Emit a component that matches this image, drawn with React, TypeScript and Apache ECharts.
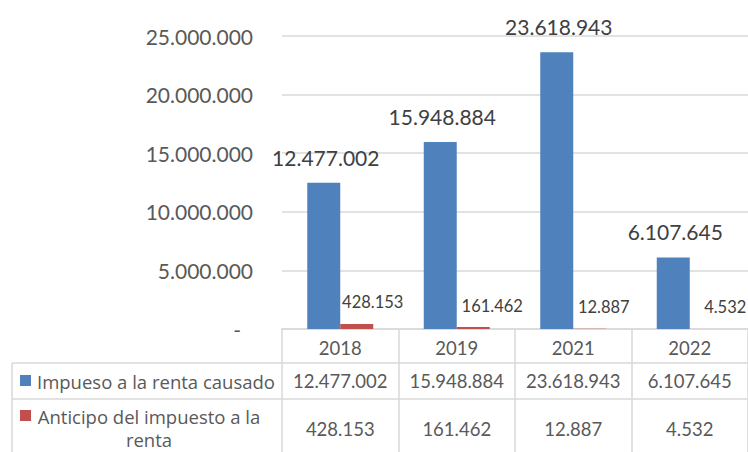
import React, { useEffect, useRef } from 'react';
import * as echarts from 'echarts';

const categories = ['2018', '2019', '2021', '2022'];
const impuestoCausado = [12477002, 15948884, 23618943, 6107645];
const anticipoImpuesto = [428153, 161462, 12887, 4532];
const seriesNames = ['Impueso a la renta causado', 'Anticipo del impuesto a la renta'];
const yMin = 0;
const yMax = 25000000;
const yInterval = 5000000;

const BLUE = '#4f81bd';
const RED = '#c0504d';
const GRID_COLOR = '#d9d9d9';
const TEXT = '#595959';
const LABEL_TEXT = '#404040';
const FONT = 'Lato, "Open Sans", sans-serif';
const ROW_FONT = '"Open Sans", Lato, sans-serif';

const W = 748;
const H = 452;
const GRID_LEFT = 282;
const GRID_TOP = 36;
const AXIS_Y = 329;
const ROW1_BOTTOM = 363;
const ROW2_BOTTOM = 399;
const TABLE_LEFT = 12;
const redLabelDx = [16, 19, 14, 19];

const fmt = (n: number) => (n === 0 ? '-' : String(n).replace(/\B(?=(\d{3})+(?!\d))/g, '.'));

function wrap(s: string, max: number): string {
  if (s.length <= max) return s;
  const idx = s.lastIndexOf(' ', max);
  if (idx <= 0) return s;
  return s.slice(0, idx) + '\n' + s.slice(idx + 1);
}

export default function App() {
  const ref = useRef<HTMLDivElement>(null);

  useEffect(() => {
    if (!ref.current) return;
    const chart = echarts.init(ref.current, null, { renderer: 'svg' });
    const colW = (W - GRID_LEFT) / categories.length;
    const seriesData = [impuestoCausado, anticipoImpuesto];
    const valueRowY = [381, 428.5];

    const graphic: any[] = [
      { type: 'line', shape: { x1: TABLE_LEFT, y1: ROW1_BOTTOM, x2: W, y2: ROW1_BOTTOM }, style: { stroke: GRID_COLOR, lineWidth: 1.5 } },
      { type: 'line', shape: { x1: TABLE_LEFT, y1: ROW2_BOTTOM, x2: W, y2: ROW2_BOTTOM }, style: { stroke: GRID_COLOR, lineWidth: 1.5 } },
      { type: 'line', shape: { x1: TABLE_LEFT, y1: ROW1_BOTTOM, x2: TABLE_LEFT, y2: H }, style: { stroke: GRID_COLOR, lineWidth: 1.5 } },
      { type: 'rect', shape: { x: 20, y: 375, width: 11, height: 11 }, style: { fill: BLUE } },
      { type: 'rect', shape: { x: 20, y: 410, width: 11, height: 11 }, style: { fill: RED } },
      {
        type: 'text', x: 37, y: 381,
        style: { text: wrap(seriesNames[0], 28), fill: TEXT, font: `18.5px ${ROW_FONT}`, align: 'left', verticalAlign: 'middle' },
      },
      {
        type: 'text', x: 149, y: 428,
        style: { text: wrap(seriesNames[1], 28), fill: TEXT, font: `18.5px ${ROW_FONT}`, align: 'center', verticalAlign: 'middle', lineHeight: 23 },
      },
    ];
    seriesData.forEach((arr, s) => {
      arr.forEach((v, i) => {
        graphic.push({
          type: 'text',
          x: GRID_LEFT + (i + 0.5) * colW,
          y: valueRowY[s],
          style: { text: fmt(v), fill: TEXT, font: `18.5px ${FONT}`, align: 'center', verticalAlign: 'middle' },
        });
      });
    });

    chart.setOption({
      animation: false,
      grid: { left: GRID_LEFT, right: 0, top: GRID_TOP, bottom: H - AXIS_Y, outerBoundsMode: 'none', containLabel: false },
      xAxis: {
        type: 'category',
        data: categories,
        axisLine: { show: true, lineStyle: { color: GRID_COLOR, width: 1.5 } },
        axisTick: { show: true, length: H - AXIS_Y, lineStyle: { color: GRID_COLOR, width: 1.5 } },
        axisLabel: { color: TEXT, fontFamily: FONT, fontSize: 18.5, margin: 9 },
      },
      yAxis: {
        type: 'value',
        min: yMin,
        max: yMax,
        interval: yInterval,
        axisLine: { show: false },
        axisTick: { show: false },
        splitLine: { lineStyle: { color: GRID_COLOR, width: 1.5 } },
        axisLabel: {
          color: TEXT,
          fontFamily: FONT,
          fontSize: 21,
          margin: 29,
          formatter: (v: number) => (v === 0 ? '{z|-}' : fmt(v)),
          rich: { z: { color: TEXT, fontFamily: FONT, fontSize: 21, padding: [0, 12, 0, 0] } },
        },
      },
      series: [
        {
          name: seriesNames[0],
          type: 'bar',
          data: impuestoCausado,
          barWidth: 33,
          barGap: '0%',
          itemStyle: { color: BLUE },
          label: {
            show: true, position: 'top', distance: 15, offset: [2, 0],
            color: LABEL_TEXT, fontFamily: FONT, fontSize: 21,
            formatter: (p: any) => fmt(p.value),
          },
        },
        {
          name: seriesNames[1],
          type: 'bar',
          data: anticipoImpuesto.map((v, i) => ({
            value: v,
            label: { offset: [redLabelDx[i], 0] },
          })),
          barWidth: 33,
          barGap: '0%',
          itemStyle: { color: RED },
          label: {
            show: true, position: 'top', distance: 13,
            color: LABEL_TEXT, fontFamily: FONT, fontSize: 16.5,
            formatter: (p: any) => fmt(p.value),
          },
        },
      ],
      graphic,
    });
    return () => chart.dispose();
  }, []);

  return <div ref={ref} style={{ position: 'absolute', left: 0, top: 0, width: W, height: H, background: '#fff' }} />;
}
